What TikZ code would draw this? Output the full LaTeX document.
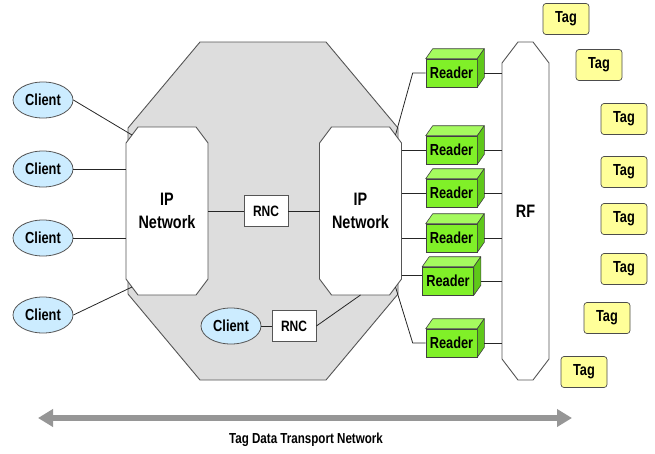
\documentclass[tikz,border=0pt]{standalone}
\usepackage{fontspec}
\setmainfont{Liberation Sans}[FakeStretch=0.8]
\usetikzlibrary{shapes.geometric,arrows.meta,calc,backgrounds}
\definecolor{coregray}{RGB}{221,221,221}
\definecolor{edgegray}{RGB}{85,85,85}
\definecolor{clientblue}{RGB}{204,236,255}
\definecolor{tagyellow}{RGB}{255,255,153}
\definecolor{readfront}{RGB}{128,240,40}
\definecolor{readtop}{RGB}{165,250,95}
\definecolor{readside}{RGB}{95,200,25}
\definecolor{arrowgray}{RGB}{150,150,150}
% outline of a node's box with its four corners cut off
\newcommand{\cutcorners}[4]{% style, node, horizontal cut, vertical cut
  \path[#1] ([yshift=-#4]#2.north west) -- ([xshift=#3]#2.north west)
    -- ([xshift=-#3]#2.north east) -- ([yshift=-#4]#2.north east)
    -- ([yshift=#4]#2.south east) -- ([xshift=-#3]#2.south east)
    -- ([xshift=#3]#2.south west) -- ([yshift=#4]#2.south west) -- cycle;}
\tikzset{
  lbl/.style={font=\bfseries\fontsize{16}{18}\selectfont},
  area/.style={rectangle, inner sep=0pt, outer sep=0pt},
  netbox/.style={area, minimum width=82, minimum height=168,
    align=center, font=\bfseries\fontsize{18}{23}\selectfont},
  rfbox/.style={area, minimum width=47, minimum height=338,
    font=\bfseries\fontsize{18}{22}\selectfont},
  outline/.style={draw=edgegray, line width=0.9pt, line join=round},
  client/.style={ellipse, draw=edgegray, line width=0.8pt, fill=clientblue,
    minimum width=60, minimum height=36, inner sep=0pt, lbl},
  rncbox/.style={rectangle, draw=edgegray, line width=0.8pt, fill=white,
    minimum width=44, minimum height=31, inner sep=0pt,
    font=\bfseries\fontsize{15}{17}\selectfont},
  reader/.style={rectangle, draw=black!75, line width=0.6pt, fill=readfront,
    minimum width=51, minimum height=28, inner sep=0pt, lbl},
  tag/.style={rectangle, rounded corners=3pt, draw=black!70, line width=0.7pt,
    fill=tagyellow, minimum width=46, minimum height=31, inner sep=0pt, lbl},
  link/.style={draw=black!85, line width=0.8pt},
}
\begin{document}
\begin{tikzpicture}[x=1pt, y=-1pt]
\useasboundingbox (0,0) rectangle (655,453);

% core network area and the two IP networks
\node[area, minimum width=270, minimum height=338] (core) at (263,211) {};
\node[netbox] (ipL) at (167,211) {IP\\Network};
\node[netbox] (ipR) at (360.5,211) {IP\\Network};
\node[rfbox] (rf) at (525.5,211) {RF};

\begin{pgfonlayer}{background}
  \cutcorners{outline, fill=coregray}{core}{72pt}{86pt}
  \cutcorners{outline, fill=white}{ipL}{12pt}{16pt}
  \cutcorners{outline, fill=white}{ipR}{12pt}{16pt}
  \cutcorners{outline, fill=white}{rf}{16pt}{21pt}
\end{pgfonlayer}

% clients on the left
\node[client] (c1) at (43,100) {Client};
\node[client] (c2) at (43,169) {Client};
\node[client] (c3) at (43,238) {Client};
\node[client] (c4) at (43,315) {Client};

% client links
\coordinate (ipLnw) at ($(ipL.north west)+(6,8)$);
\coordinate (ipLsw) at ($(ipL.south west)+(6,-8)$);
\draw[link] (c1.east) -- (ipLnw);
\draw[link] (c2.east) -- (c2.east -| ipL.west);
\draw[link] (c3.east) -- (c3.east -| ipL.west);
\draw[link] (c4.east) -- (ipLsw);

% radio network controllers
\node[rncbox] (rnc1) at (266,211) {RNC};
\draw[link] (ipL.east) -- (rnc1.west);
\draw[link] (rnc1.east) -- (ipR.west);

\node[client] (c5) at (231,326) {Client};
\node[rncbox] (rnc2) at (294,326) {RNC};
\draw[link] (c5.east) -- (rnc2.west);
\draw[link] (rnc2.east) -- (ipR.south);

% readers
\node[reader] (r1) at (451.5,73) {Reader};
\node[reader] (r2) at (451.5,150) {Reader};
\node[reader] (r3) at (451.5,193) {Reader};
\node[reader] (r4) at (451.5,238) {Reader};
\node[reader] (r5) at (448,281) {Reader};
\node[reader] (r6) at (451.5,343) {Reader};

\foreach \r in {r1,r2,r3,r4,r5,r6} {
  \filldraw[fill=readtop, draw=black!75, line width=0.6pt, line join=round]
    (\r.north west) -- ++(7,-10) -- ([shift={(7,-10)}]\r.north east) -- (\r.north east) -- cycle;
  \filldraw[fill=readside, draw=black!75, line width=0.6pt, line join=round]
    (\r.north east) -- ++(7,-10) -- ([shift={(7,-10)}]\r.south east) -- (\r.south east) -- cycle;
  \draw[link] ([xshift=7pt]\r.east) -- (\r.east -| rf.west);
}

% reader links from the IP network
\coordinate (ipRne) at ($(ipR.north east)+(-6,8)$);
\coordinate (ipRse) at ($(ipR.south east)+(-6,-8)$);
\coordinate (k1) at ($(r1.west)+(-13,0)$);
\coordinate (k6) at ($(r6.west)+(-13,0)$);
\draw[link] (ipRne) -- (k1) -- (r1.west);
\draw[link] (r2.west -| ipR.east) -- (r2.west);
\draw[link] (r3.west -| ipR.east) -- (r3.west);
\draw[link] (r4.west -| ipR.east) -- (r4.west);
\draw[link] ([yshift=6pt]r5.west -| ipR.east) -- ([yshift=6pt]r5.west);
\draw[link] (ipRse) -- (k6) -- (r6.west);

% tags
\node[tag] (t1) at (566,19) {Tag};
\node[tag] (t2) at (599,65) {Tag};
\node[tag] (t3) at (624,119) {Tag};
\node[tag] (t4) at (624,172) {Tag};
\node[tag] (t5) at (624,219) {Tag};
\node[tag] (t6) at (624,269) {Tag};
\node[tag] (t7) at (607,318) {Tag};
\node[tag] (t8) at (584,372) {Tag};

% transport span
\coordinate (spanL) at (38,418);
\coordinate (spanR) at (572,418);
\draw[arrowgray, line width=6pt,
  {Triangle[length=15pt,width=17pt]}-{Triangle[length=15pt,width=17pt]}]
  (spanL) -- (spanR);
\node[font=\bfseries\fontsize{14.5}{17}\selectfont] (cap) at (306,440) {Tag Data Transport Network};
\end{tikzpicture}
\end{document}
